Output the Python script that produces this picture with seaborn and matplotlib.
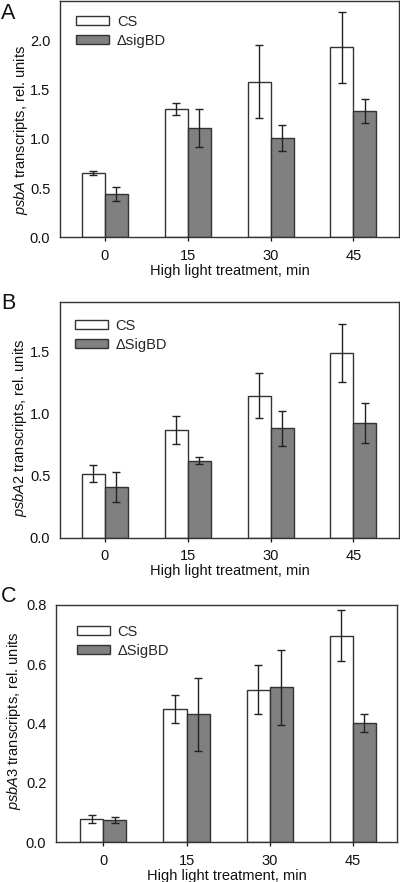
import matplotlib
matplotlib.use("Agg")
import matplotlib.pyplot as plt
from matplotlib.patches import Patch
import seaborn as sns
import pandas as pd
import numpy as np

# ---- data ----
times = ["0", "15", "30", "45"]
genotypes = ["CS", "mutant"]

psbA_cs = [0.65, 1.30, 1.58, 1.93]
psbA_cs_err = [0.02, 0.06, 0.37, 0.36]
psbA_mut = [0.44, 1.11, 1.01, 1.28]
psbA_mut_err = [0.073, 0.19, 0.134, 0.12]

psbA2_cs = [0.515, 0.867, 1.143, 1.486]
psbA2_cs_err = [0.07, 0.11, 0.18, 0.235]
psbA2_mut = [0.41, 0.62, 0.88, 0.926]
psbA2_mut_err = [0.12, 0.03, 0.14, 0.16]

psbA3_cs = [0.078, 0.449, 0.515, 0.697]
psbA3_cs_err = [0.013, 0.048, 0.083, 0.085]
psbA3_mut = [0.075, 0.431, 0.522, 0.402]
psbA3_mut_err = [0.011, 0.123, 0.125, 0.03]

panel_letters = ["A", "B", "C"]
mutant_labels = ["\u0394sigBD", "\u0394SigBD", "\u0394SigBD"]
ylabels = ["$\\mathit{psbA}$ transcripts, rel. units",
           "$\\mathit{psbA2}$ transcripts, rel. units",
           "$\\mathit{psbA3}$ transcripts, rel. units"]
xlabel = "High light treatment, min"
ylims = [2.4, 1.9, 0.8]
yticks = [[0.0, 0.5, 1.0, 1.5, 2.0], [0.0, 0.5, 1.0, 1.5], [0.0, 0.2, 0.4, 0.6, 0.8]]

panels = [(psbA_cs, psbA_cs_err, psbA_mut, psbA_mut_err),
          (psbA2_cs, psbA2_cs_err, psbA2_mut, psbA2_mut_err),
          (psbA3_cs, psbA3_cs_err, psbA3_mut, psbA3_mut_err)]

# ---- style ----
sns.set_style("white")
plt.rcParams['font.family'] = ['Liberation Sans', 'DejaVu Sans']
plt.rcParams['mathtext.fontset'] = 'custom'
plt.rcParams['mathtext.rm'] = 'Liberation Sans'
plt.rcParams['mathtext.it'] = 'Liberation Sans:italic'
FS = 10.5
EDGE = '#333333'
FILL_CS = 'white'
FILL_MUT = '#808080'

fig = plt.figure(figsize=(4.0, 8.82), dpi=100)
W, H = 400.0, 882.0

# axes boxes in pixels: left, right, top, bottom
boxes = [(60, 399, 0.7, 237.3), (60, 399, 301.7, 537.7), (56, 397, 605, 842.3)]
xlims = [(-0.54, 3.55), (-0.54, 3.55), (-0.57, 3.53)]
ylabel_coords = [(-0.088, 0.455), (-0.09, 0.467), (-0.098, 0.51)]
legend_anchor = [(0.047, 0.94), (0.044, 0.927), (0.061, 0.916)]
letter_pos = [(1, 3), (1, 293), (1, 586)]

for i, (cs, cs_err, mut, mut_err) in enumerate(panels):
    l, r, t, b = boxes[i]
    ax = fig.add_axes([l / W, 1 - b / H, (r - l) / W, (b - t) / H])
    df = pd.DataFrame({
        "time": times * 2,
        "geno": [genotypes[0]] * 4 + [genotypes[1]] * 4,
        "value": list(cs) + list(mut),
    })
    sns.barplot(data=df, x="time", y="value", hue="geno", order=times,
                hue_order=genotypes, palette=[FILL_CS, FILL_MUT],
                saturation=1, width=0.555, gap=0, errorbar=None,
                edgecolor=EDGE, linewidth=1.0, legend=False, ax=ax)
    errs = [cs_err, mut_err]
    for cont, err in zip(ax.containers, errs):
        xs = [p.get_x() + p.get_width() / 2 for p in cont.patches]
        ys = [p.get_height() for p in cont.patches]
        ax.errorbar(xs, ys, yerr=err, fmt='none', ecolor='#222222',
                    elinewidth=1.0, capsize=2.6, capthick=1.0, zorder=5)
    ax.set_xlim(*xlims[i])
    ax.set_ylim(0, ylims[i])
    ax.set_yticks(yticks[i])
    ax.set_yticklabels([f"{v:.1f}" for v in yticks[i]], fontsize=FS)
    ax.set_xticks(range(len(times)))
    ax.set_xticklabels(times, fontsize=FS)
    ax.tick_params(axis='y', length=0, pad=7, colors='#111111')
    ax.tick_params(axis='x', direction='out', length=2.6, width=0.9,
                   pad=5.8, colors='#111111', bottom=True)
    for s in ax.spines.values():
        s.set_visible(True)
        s.set_color('#333333')
        s.set_linewidth(1.0)
    ax.set_xlabel(xlabel, fontsize=FS, labelpad=0.5, color='#111111')
    ax.set_ylabel(ylabels[i], fontsize=FS, color='#111111')
    ax.yaxis.set_label_coords(*ylabel_coords[i])

    handles = [Patch(facecolor=FILL_CS, edgecolor=EDGE, linewidth=1.0),
               Patch(facecolor=FILL_MUT, edgecolor=EDGE, linewidth=1.0)]
    ax.legend(handles, ["CS", mutant_labels[i]], loc='upper left',
              bbox_to_anchor=legend_anchor[i], borderaxespad=0, borderpad=0,
              frameon=False, fontsize=FS, handlelength=2.3, handleheight=0.55,
              handletextpad=0.5, labelspacing=0.35)

    lx, ly = letter_pos[i]
    fig.text(lx / W, 1 - ly / H, panel_letters[i], fontsize=15.5,
             ha='left', va='top', color='#111111')

fig.savefig("out.png", dpi=100)
